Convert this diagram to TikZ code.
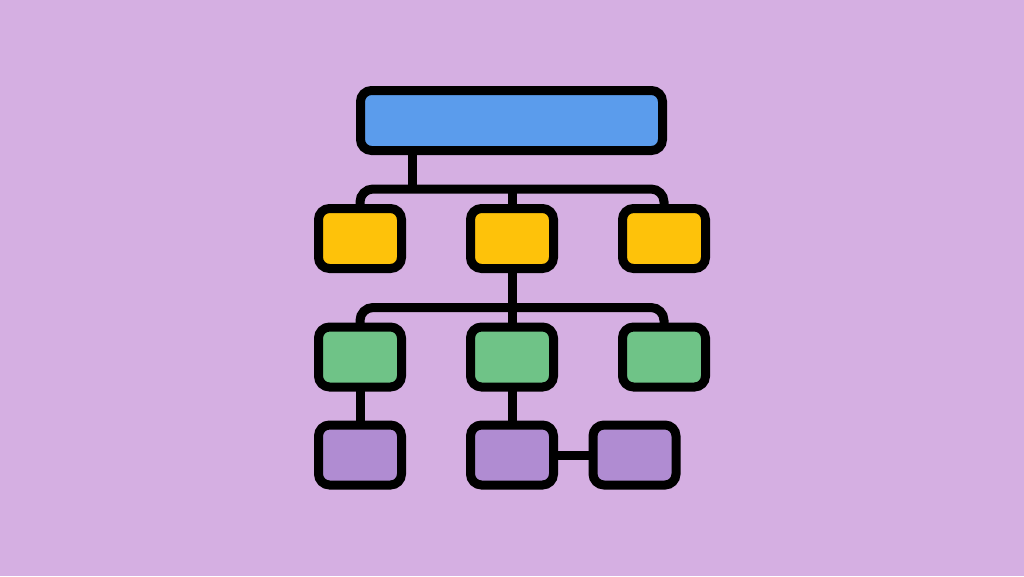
\documentclass[tikz,border=0pt]{standalone}
\definecolor{bgc}{HTML}{D5AFE2}
\definecolor{bluec}{HTML}{5B9CEC}
\definecolor{yelc}{HTML}{FEC20A}
\definecolor{grnc}{HTML}{6FC387}
\definecolor{purc}{HTML}{B08CD2}
\tikzset{
  box/.style={draw=black, line width=9pt, rounded corners=11pt, minimum width=83pt, minimum height=60pt, outer sep=0pt, inner sep=0pt},
  wide/.style={box, minimum width=302pt},
  link/.style={draw=black, line width=9pt, rounded corners=13pt}
}
\begin{document}
\begin{tikzpicture}[x=1pt,y=-1pt]
\fill[bgc] (0,0) rectangle (1024,576);
\useasboundingbox (0,0) rectangle (1024,576);
\coordinate (j1) at (412.5,189);
\coordinate (b1) at (512,189);
\coordinate (b2) at (512,307.5);
\node[wide, fill=bluec] (top) at (511.5,120.5) {};
\node[box, fill=yelc] (y1) at (360,238.5) {};
\node[box, fill=yelc] (y2) at (512,238.5) {};
\node[box, fill=yelc] (y3) at (664,238.5) {};
\node[box, fill=grnc] (g1) at (360,357) {};
\node[box, fill=grnc] (g2) at (512,357) {};
\node[box, fill=grnc] (g3) at (664,357) {};
\node[box, fill=purc] (p1) at (360,455) {};
\node[box, fill=purc] (p2) at (512,455) {};
\node[box, fill=purc] (p3) at (634.5,455) {};
\draw[link] (j1 |- top.south) -- (j1);
\draw[link] (y1.north) |- (b1) -| (y3.north);
\draw[link] (y2.north) -- (b1);
\draw[link] (y2.south) -- (g2.north);
\draw[link] (g1.north) |- (b2) -| (g3.north);
\draw[link] (g1.south) -- (p1.north);
\draw[link] (g2.south) -- (p2.north);
\draw[link] (p2.east) -- (p3.west);
\end{tikzpicture}
\end{document}
